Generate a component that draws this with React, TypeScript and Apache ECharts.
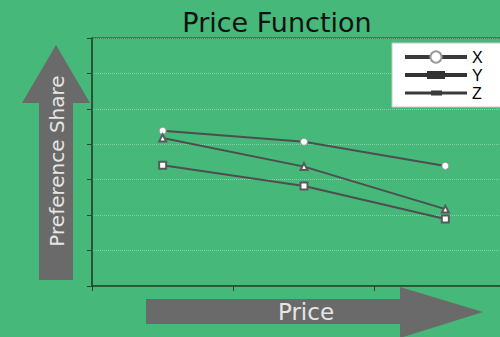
import React, { useEffect, useRef } from "react";
import * as echarts from "echarts";

const categories = ["P1", "P2", "P3"];
const seriesX = [4.38, 4.07, 3.39];
const seriesY = [4.18, 3.37, 2.17];
const seriesZ = [3.41, 2.82, 1.89];
const seriesNames = ["X", "Y", "Z"];
const titleText = "Price Function";
const yAxisTitle = "Preference Share";
const xAxisTitle = "Price";

const ARROW = "#6a6a6a";
const LINE = "#4e4e4e";
const AXIS = "#1f4a2c";

export default function App() {
  const ref = useRef<HTMLDivElement>(null);
  useEffect(() => {
    document.body.style.margin = "0";
    const chart = echarts.init(ref.current!, null, { renderer: "svg" });
    const yIcon =
      "path://M0,0 L0.01,0 L0,0.01 Z M0,14 L0.01,14 L0,13.99 Z M0,5 L62,5 L62,9 L0,9 Z M22,3 L40,3 L40,11 L22,11 Z";
    const zIcon =
      "path://M0,0 L0.01,0 L0,0.01 Z M0,14 L0.01,14 L0,13.99 Z M0,5.5 L62,5.5 L62,8.5 L0,8.5 Z M26,4.5 L37,4.5 L37,9.5 L26,9.5 Z";
    chart.setOption({
      animation: false,
      backgroundColor: "#45b87a",
      grid: {
        left: 92,
        top: 38,
        width: 424,
        height: 248,
        outerBoundsMode: "none",
        containLabel: false,
        show: true,
        borderColor: AXIS,
        borderWidth: 1,
        backgroundColor: "transparent",
      },
      xAxis: {
        type: "category",
        data: categories,
        boundaryGap: true,
        axisLine: { lineStyle: { color: AXIS, width: 1.5 } },
        axisTick: { show: true, length: 5, lineStyle: { color: AXIS } },
        axisLabel: { show: false },
        splitLine: { show: false },
      },
      yAxis: {
        type: "value",
        min: 0,
        max: 7,
        interval: 1,
        axisLine: { show: true, lineStyle: { color: AXIS, width: 1.5 } },
        axisTick: { show: true, length: 5, lineStyle: { color: AXIS } },
        axisLabel: { show: false },
        splitLine: {
          show: true,
          lineStyle: { color: "rgba(255,255,255,0.35)", type: "dotted", width: 1 },
        },
      },
      legend: {
        left: 403,
        top: 49,
        padding: 0,
        orient: "vertical",
        itemWidth: 62,
        itemHeight: 14,
        itemGap: 2,
        symbolKeepAspect: false,
        z: 5,
        textStyle: {
          color: "#000",
          fontSize: 16,
          lineHeight: 8,
          fontFamily: "Liberation Sans",
          padding: [6, 0, 0, 0],
        },
        lineStyle: { width: 4, color: "#3a3a3a" },
        data: [
          { name: seriesNames[0] },
          { name: seriesNames[1], icon: yIcon, itemStyle: { color: "#333" } },
          { name: seriesNames[2], icon: zIcon, itemStyle: { color: "#3a3a3a" } },
        ],
      },
      series: [
        {
          name: seriesNames[0],
          type: "line",
          data: seriesX,
          symbol: "circle",
          symbolSize: 7,
          lineStyle: { color: LINE, width: 2 },
          itemStyle: { color: "#ffffff", borderColor: "#9a9a9a", borderWidth: 1 },
          z: 3,
        },
        {
          name: seriesNames[1],
          type: "line",
          data: seriesY,
          symbol: "emptyTriangle",
          symbolSize: 7,
          lineStyle: { color: LINE, width: 2 },
          itemStyle: { color: "#5a5a5a", borderWidth: 1 },
        },
        {
          name: seriesNames[2],
          type: "line",
          data: seriesZ,
          symbol: "emptyRect",
          symbolSize: 7,
          lineStyle: { color: LINE, width: 2 },
          itemStyle: { color: "#5a5a5a", borderWidth: 1 },
        },
      ],
      graphic: [
        {
          type: "rect",
          z: 1,
          shape: { x: 392, y: 43, width: 130, height: 64 },
          style: { fill: "#ffffff", stroke: "#c8c8c8", lineWidth: 1 },
        },
        {
          type: "text",
          z: 3,
          x: 277,
          y: 22,
          style: {
            text: titleText,
            fill: "#111",
            fontSize: 27,
            fontFamily: "DejaVu Sans",
            align: "center",
            verticalAlign: "middle",
          },
        },
        {
          type: "polygon",
          z: 2,
          shape: {
            points: [
              [39, 280],
              [73, 280],
              [73, 103],
              [90, 103],
              [56, 45],
              [22, 103],
              [39, 103],
            ],
          },
          style: { fill: ARROW },
        },
        {
          type: "text",
          z: 3,
          x: 57,
          y: 161,
          rotation: Math.PI / 2,
          style: {
            text: yAxisTitle,
            fill: "#e6e6e6",
            fontSize: 20,
            fontFamily: "DejaVu Sans",
            align: "center",
            verticalAlign: "middle",
          },
        },
        {
          type: "polygon",
          z: 2,
          shape: {
            points: [
              [146, 299],
              [146, 324],
              [400, 324],
              [400, 338],
              [483, 312],
              [400, 287],
              [400, 299],
            ],
          },
          style: { fill: ARROW },
        },
        {
          type: "text",
          z: 3,
          x: 306,
          y: 312,
          style: {
            text: xAxisTitle,
            fill: "#e6e6e6",
            fontSize: 23,
            fontFamily: "DejaVu Sans",
            align: "center",
            verticalAlign: "middle",
          },
        },
      ],
    });
    return () => chart.dispose();
  }, []);
  return (
    <div
      ref={ref}
      style={{ position: "fixed", left: 0, top: 0, width: 500, height: 337 }}
    />
  );
}
